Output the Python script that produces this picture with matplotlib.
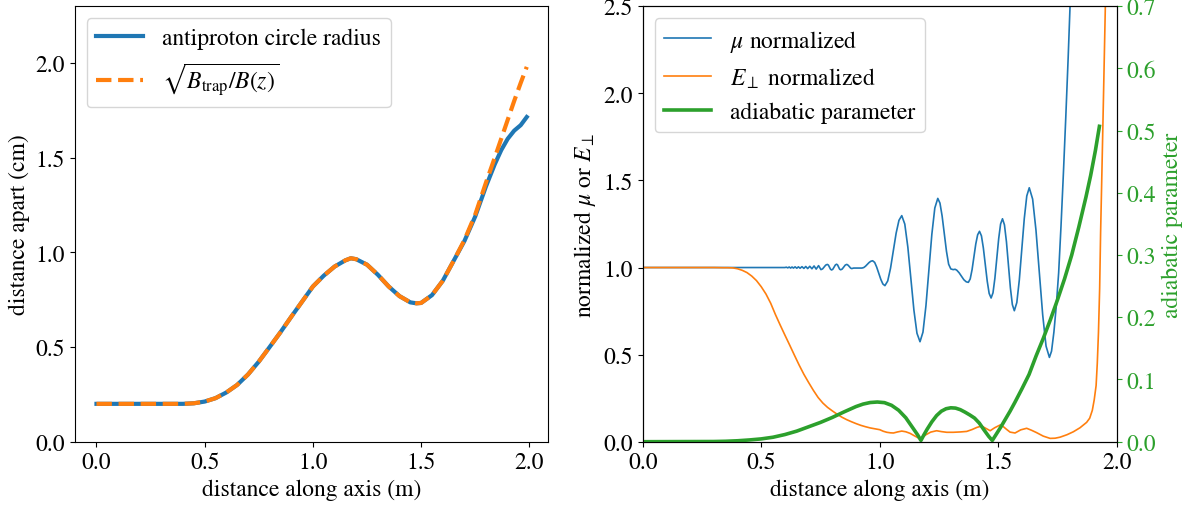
import matplotlib
matplotlib.use("Agg")
import matplotlib.pyplot as plt

plt.rcParams["font.family"] = ["STIXGeneral", "DejaVu Serif"]
plt.rcParams["mathtext.fontset"] = "stix"
plt.rcParams["font.size"] = 17

# ---- left panel: circle radius along the axis ----
z_left = [0.0, 0.2, 0.4, 0.45, 0.5, 0.55, 0.6, 0.65, 0.7, 0.75, 0.8, 0.85,
          0.9, 0.95, 1.0, 1.05, 1.1, 1.15, 1.175, 1.2, 1.25, 1.3, 1.35, 1.4,
          1.45, 1.478, 1.5, 1.55, 1.6, 1.65, 1.7, 1.75, 1.8, 1.84, 1.87, 1.9,
          1.93, 1.96, 1.988]
radius_pbar = [0.2, 0.2, 0.2, 0.203, 0.212, 0.230, 0.260, 0.300, 0.355, 0.423,
               0.50, 0.578, 0.660, 0.740, 0.820, 0.877, 0.925, 0.958, 0.969,
               0.964, 0.935, 0.882, 0.820, 0.769, 0.736, 0.731, 0.733, 0.774,
               0.850, 0.955, 1.06, 1.19, 1.35, 1.465, 1.54, 1.60, 1.643, 1.672,
               1.715]
radius_field = [0.2, 0.2, 0.2, 0.203, 0.212, 0.230, 0.260, 0.300, 0.355, 0.423,
                0.50, 0.578, 0.660, 0.740, 0.820, 0.877, 0.925, 0.958, 0.969,
                0.964, 0.935, 0.882, 0.820, 0.769, 0.736, 0.731, 0.733, 0.774,
                0.850, 0.955, 1.065, 1.20, 1.37, 1.50, 1.60, 1.70, 1.80, 1.895,
                1.98]

# ---- right panel: magnetic moment and perpendicular energy ----
z_mu = [0.0, 0.600, 0.606, 0.612, 0.618, 0.624, 0.630, 0.636, 0.643, 0.650,
        0.657, 0.664, 0.672, 0.680, 0.688, 0.696, 0.705, 0.714, 0.723, 0.732,
        0.742, 0.752, 0.7588, 0.7655, 0.7722, 0.779, 0.7835, 0.788, 0.7925,
        0.797, 0.802, 0.8075, 0.813, 0.818, 0.8222, 0.8265, 0.8307, 0.835,
        0.8415, 0.848, 0.8545, 0.861, 0.866, 0.8715, 0.877, 0.882, 0.89, 0.925,
        0.9325, 0.940, 0.9475, 0.955, 0.9625, 0.970,
        0.9787, 0.987, 0.996, 1.0047, 1.0133, 1.022,
        1.0338, 1.0457, 1.0575, 1.0693, 1.0812, 1.093,
        1.1058, 1.1187, 1.1315, 1.1443, 1.1572, 1.170,
        1.1825, 1.195, 1.2075, 1.22, 1.2325, 1.245,
        1.2542, 1.2633, 1.2725, 1.2817, 1.2908, 1.30,
        1.31, 1.318, 1.325, 1.335, 1.345, 1.355, 1.365, 1.374,
        1.3818, 1.3897, 1.3975, 1.4053, 1.4132, 1.421,
        1.4292, 1.4373, 1.4455, 1.4537, 1.4618, 1.470,
        1.478, 1.486, 1.494, 1.502, 1.510, 1.518,
        1.5263, 1.5347, 1.543, 1.5513, 1.5597, 1.568,
        1.5785, 1.589, 1.5995, 1.61, 1.6205, 1.631,
        1.6452, 1.6593, 1.6735, 1.6877, 1.7018, 1.716,
        1.725, 1.735, 1.745, 1.755, 1.765, 1.775, 1.785, 1.795, 1.803, 1.81]
mu_norm = [1.0, 1.000, 1.002, 0.998, 1.003, 0.997, 1.003, 0.997, 1.004, 0.996,
           1.004, 0.996, 1.005, 0.995, 1.006, 0.994, 1.007, 0.993, 1.009, 0.991,
           1.011, 0.988, 0.992, 1.003, 1.014, 1.018, 1.014, 1.002, 0.990,
           0.986, 0.990, 1.0025, 1.015, 1.019, 1.015, 1.003, 0.991, 0.987,
           0.991, 1.0025, 1.014, 1.018, 1.014, 1.006, 0.997, 0.994, 0.997, 0.997,
           0.9998, 1.0075, 1.018, 1.0285, 1.036, 1.039,
           1.0294, 1.0032, 0.9675, 0.9318, 0.9056, 0.896,
           0.923, 0.9965, 1.097, 1.1975, 1.271, 1.298,
           1.2495, 1.117, 0.936, 0.755, 0.6225, 0.574,
           0.6291, 0.7798, 0.9855, 1.1913, 1.342, 1.397,
           1.370, 1.296, 1.1945, 1.093, 1.019, 0.992,
           0.988, 0.990, 0.985, 0.970, 0.950, 0.930, 0.918, 0.915,
           0.9346, 0.988, 1.0615, 1.135, 1.188, 1.208,
           1.182, 1.112, 1.0165, 0.921, 0.851, 0.825,
           0.855, 0.939, 1.0525, 1.166, 1.250, 1.280,
           1.245, 1.148, 1.016, 0.884, 0.787, 0.752,
           0.799, 0.9285, 1.105, 1.2815, 1.411, 1.458,
           1.393, 1.2145, 0.971, 0.7275, 0.549, 0.484,
           0.52, 0.63, 0.78, 0.97, 1.24, 1.54, 1.86, 2.2, 2.5, 2.75]

z_eperp = [0.0, 0.30, 0.34, 0.36, 0.38, 0.40, 0.42, 0.44, 0.46, 0.48, 0.50,
           0.52, 0.54, 0.56, 0.58, 0.60, 0.62, 0.64, 0.66, 0.68, 0.70, 0.72,
           0.74, 0.76, 0.78, 0.80, 0.82, 0.84, 0.86, 0.88, 0.90, 0.92, 0.94,
           0.96, 0.98, 1.00, 1.015, 1.03, 1.045, 1.058, 1.075, 1.093, 1.11,
           1.128, 1.145, 1.16, 1.17, 1.18, 1.195, 1.215, 1.24, 1.26, 1.283,
           1.31, 1.34, 1.367, 1.39, 1.41, 1.43, 1.45, 1.466, 1.485, 1.508,
           1.522, 1.536, 1.55, 1.571, 1.595, 1.62, 1.64, 1.662, 1.69, 1.719,
           1.74, 1.761, 1.79, 1.817, 1.845, 1.873, 1.886, 1.897, 1.905, 1.913,
           1.918, 1.923, 1.928, 1.932, 1.938, 1.944, 1.952, 1.957]
eperp_norm = [1.0, 1.0, 0.999, 0.999, 0.998, 0.993, 0.984, 0.971, 0.951, 0.925,
              0.890, 0.848, 0.795, 0.730, 0.670, 0.612, 0.555, 0.497, 0.440,
              0.387, 0.340, 0.295, 0.254, 0.222, 0.197, 0.177, 0.158, 0.141,
              0.127, 0.115, 0.104, 0.094, 0.086, 0.079, 0.074, 0.069, 0.060,
              0.054, 0.051, 0.050, 0.056, 0.061, 0.057, 0.048, 0.035, 0.024,
              0.019, 0.024, 0.040, 0.055, 0.063, 0.058, 0.054, 0.054, 0.056,
              0.059, 0.070, 0.082, 0.090, 0.075, 0.063, 0.080, 0.096, 0.086,
              0.070, 0.055, 0.050, 0.068, 0.077, 0.066, 0.052, 0.032, 0.019,
              0.020, 0.026, 0.040, 0.057, 0.080, 0.111, 0.135, 0.18, 0.24,
              0.322, 0.45, 0.628, 0.88, 1.20, 1.58, 1.97, 2.5, 3.0]

# ---- right panel, twin axis: adiabatic parameter ----
z_adiab = [0.0, 0.30, 0.35, 0.40, 0.45, 0.50, 0.55, 0.60, 0.65, 0.70, 0.75,
           0.80, 0.85, 0.90, 0.93, 0.96, 0.99, 1.02, 1.05, 1.08, 1.11, 1.14,
           1.16, 1.174, 1.185, 1.20, 1.22, 1.24, 1.26, 1.28, 1.30, 1.32, 1.34,
           1.36, 1.38, 1.40, 1.42, 1.44, 1.46, 1.475, 1.49, 1.51, 1.53, 1.55,
           1.57, 1.60, 1.63, 1.66, 1.69, 1.72, 1.75, 1.78, 1.81, 1.84, 1.87,
           1.89, 1.91, 1.927]
adiabatic = [0.0, 0.0003, 0.0007, 0.0015, 0.0028, 0.0045, 0.0072, 0.0115,
             0.017, 0.024, 0.031, 0.039, 0.048, 0.0565, 0.0605, 0.063, 0.0638,
             0.0628, 0.0585, 0.0505, 0.0385, 0.022, 0.011, 0.002, 0.010, 0.020,
             0.032, 0.042, 0.049, 0.053, 0.0545, 0.054, 0.0515, 0.0475, 0.043,
             0.038, 0.030, 0.019, 0.0085, 0.002, 0.011, 0.023, 0.036, 0.049,
             0.063, 0.085, 0.108, 0.138, 0.166, 0.196, 0.228, 0.262, 0.300,
             0.345, 0.393, 0.428, 0.468, 0.507]

ticks_left_x = [0.0, 0.5, 1.0, 1.5, 2.0]
ticks_left_y = [0.0, 0.5, 1.0, 1.5, 2.0]
ticks_right_y = [0.0, 0.5, 1.0, 1.5, 2.0, 2.5]
ticks_twin = [0.0, 0.1, 0.2, 0.3, 0.4, 0.5, 0.6, 0.7]

blue, orange, green = "#1f77b4", "#ff7f0e", "#2ca02c"

fig = plt.figure(figsize=(11.88, 5.06), dpi=100)
ax1 = fig.add_axes([0.0631, 0.1251, 0.3984, 0.8605])
ax2 = fig.add_axes([0.541, 0.1251, 0.399, 0.8605])
ax3 = ax2.twinx()

ax1.plot(z_left, radius_pbar, color=blue, lw=3, label="antiproton circle radius")
ax1.plot(z_left, radius_field, color=orange, lw=3, ls="--",
         label=r"$\sqrt{B_{\rm trap}/B(z)}$")
ax1.set_ylim(0, 2.3)
ax1.set_xticks(ticks_left_x)
ax1.set_yticks(ticks_left_y)
ax1.set_xlabel("distance along axis (m)")
ax1.set_ylabel("distance apart (cm)")
ax1.legend(loc="upper left")

l1, = ax2.plot(z_mu, mu_norm, color=blue, lw=1.2, label=r"$\mu$ normalized")
l2, = ax2.plot(z_eperp, eperp_norm, color=orange, lw=1.2,
               label=r"$E_\perp$ normalized")
l3, = ax3.plot(z_adiab, adiabatic, color=green, lw=2.6, label="adiabatic parameter")
ax2.set_xlim(0, 2.0)
ax2.set_ylim(0, 2.5)
ax2.set_yticks(ticks_right_y)
ax2.set_xlabel("distance along axis (m)")
ax2.set_ylabel(r"normalized $\mu$ or $E_\perp$")
ax3.set_ylim(0, 0.7)
ax3.set_yticks(ticks_twin)
ax3.set_ylabel("adiabatic parameter", color=green)
ax3.tick_params(axis="y", colors=green)
ax3.legend(handles=[l1, l2, l3], loc="upper left")

fig.savefig("out.png", dpi=100)
